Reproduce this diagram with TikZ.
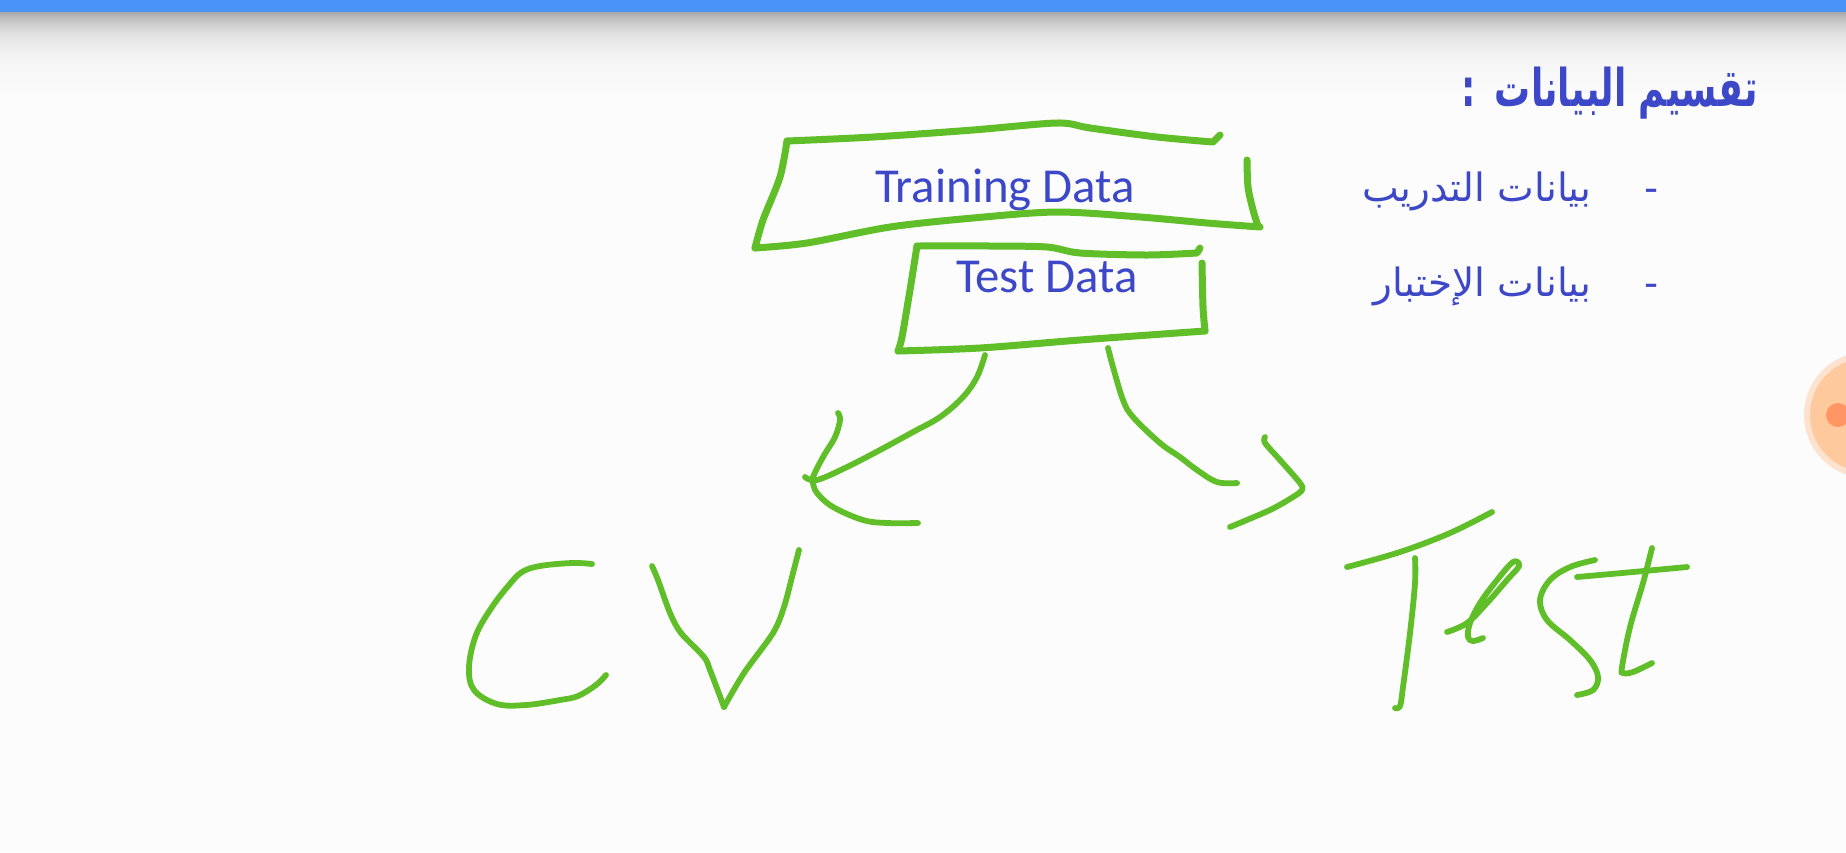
\documentclass[tikz,border=0pt]{standalone}
\usepackage{graphicx}
\usepackage{fontspec}
\setmainfont{Carlito}
\newfontfamily\arabicfont[Script=Arabic]{DejaVu Sans}
\TeXXeTstate=1
\definecolor{ink}{RGB}{96,190,40}
\definecolor{slideblue}{RGB}{60,72,200}
\definecolor{topbar}{RGB}{74,148,248}
\definecolor{paper}{RGB}{252,252,252}
\definecolor{peachring}{RGB}{253,226,206}
\definecolor{peach}{RGB}{255,201,158}
\definecolor{peachdot}{RGB}{255,150,100}
\begin{document}
\begin{tikzpicture}[x=0.5pt,y=-0.5pt,
  pen/.style={draw=ink, line width=2.9pt, line cap=round, line join=round},
  boxpen/.style={pen, line width=3.5pt},
  boxtext/.style={text=slideblue, font=\fontsize{24.4}{28}\selectfont, inner sep=0pt, anchor=base},
  artext/.style={text=slideblue, inner sep=0pt, anchor=base east, font=\arabicfont\fontsize{19.5}{23}\selectfont},
]
\useasboundingbox (0,0) rectangle (1846,852);
\fill[paper] (0,0) rectangle (1846,852);

% header: shadow below the blue bar
\foreach \i in {0,...,84} {
  \pgfmathsetmacro\p{35*exp(-\i/20)}
  \fill[black!\p!paper] (0,11+\i) rectangle (1846,12.3+\i);
}
\fill[topbar] (0,0) rectangle (1846,11.5);

% slide text
\node[artext, font=\arabicfont\bfseries\fontsize{26}{30}\selectfont] (title) at (1758,106)
  {\scalebox{0.69}[1]{\beginR تقسيم البيانات\hskip 14pt:\endR}};
\node[artext] (trainar) at (1592,201) {\beginR بيانات التدريب\endR};
\node[artext, anchor=base] (dashone) at (1652,201) {-};
\node[artext] (testar) at (1592,296) {\beginR بيانات الإختبار\endR};
\node[artext, anchor=base] (dashtwo) at (1652,296) {-};

\node[boxtext] (train) at (1005,202) {Training Data};
\node[boxtext] (test) at (1047,292) {Test Data};

% hand-drawn box round Training Data
\draw[boxpen] plot[smooth, tension=0.5] coordinates {(787,141) (873,137) (973,130) (1057,123) (1090,128) (1157,137) (1213,142)} -- (1220,135);
\draw[boxpen] plot[smooth, tension=0.5] coordinates {(787,141) (780,177) (763,220) (755,248)};
\draw[boxpen] plot[smooth, tension=0.5] coordinates {(755,248) (807,243) (890,227) (973,218) (1057,212) (1140,217) (1207,223) (1260,227)};
\draw[boxpen] plot[smooth, tension=0.5] coordinates {(1247,160) (1248,187) (1253,210) (1258,226)};

% hand-drawn box round Test Data
\draw[boxpen] plot[smooth, tension=0.5] coordinates {(917,246) (990,246) (1047,247) (1080,253) (1147,255) (1197,253)} -- (1200,248);
\draw[boxpen] plot[smooth, tension=0.5] coordinates {(917,246) (910,290) (902,337) (898,351)};
\draw[boxpen] plot[smooth, tension=0.5] coordinates {(898,351) (980,348) (1080,340) (1205,331)};
\draw[boxpen] plot[smooth, tension=0.5] coordinates {(1202,263) (1203,307) (1205,331)};

% left arrow
\draw[pen] plot[smooth, tension=0.6] coordinates {(985,355) (977,377) (963,397) (940,417) (913,432) (880,450) (847,467) (817,480) (805,477)};
\draw[pen] plot[smooth, tension=0.6] coordinates {(838,413) (840,420) (835,437) (823,457) (813,477) (813,483)};
\draw[pen] plot[smooth, tension=0.6] coordinates {(813,483) (817,493) (833,507) (863,520) (887,523) (918,523)};

% right arrow
\draw[pen] plot[smooth, tension=0.6] coordinates {(1108,348) (1113,367) (1123,400) (1133,417) (1160,443) (1180,457) (1197,470) (1217,482) (1237,483)};
\draw[pen] plot[smooth, tension=0.5] coordinates {(1265,437) (1265,443) (1280,460) (1300,483) (1302,490) (1293,497) (1270,510) (1230,527)};

% handwritten CV
\draw[pen] plot[smooth, tension=0.6] coordinates {(592,564) (572,563) (540,566) (522,572) (509,585) (492,607) (476,635) (469,667) (474,690) (497,704) (526,705) (560,700) (578,696) (596,685) (606,675)};
\draw[pen] plot[smooth, tension=0.5] coordinates {(652,566) (658,580) (670,613) (681,633) (704,657) (710,670) (724,707)};
\draw[pen] plot[smooth, tension=0.5] coordinates {(724,707) (744,673) (773,633) (784,607) (793,573) (799,550)};

% handwritten Test
\draw[pen] plot[smooth, tension=0.6] coordinates {(1347,567) (1400,552) (1450,533) (1492,512)};
\draw[pen] plot[smooth, tension=0.6] coordinates {(1415,558) (1415,583) (1410,633) (1403,687) (1400,706) (1395,708)};
\draw[pen] plot[smooth, tension=0.6] coordinates {(1447,632) (1467,623) (1487,603) (1507,580) (1519,566) (1513,562) (1497,580) (1480,603) (1470,623) (1468,637) (1473,641) (1483,638)};
\draw[pen] plot[smooth, tension=0.6] coordinates {(1595,560) (1570,567) (1550,580) (1540,600) (1547,620) (1570,640) (1590,660) (1598,677) (1593,690) (1577,695)};
\draw[pen] plot[smooth, tension=0.6] coordinates {(1577,577) (1633,572) (1687,567)};
\draw[pen] plot[smooth, tension=0.6] coordinates {(1652,548) (1643,583) (1630,627) (1622,667) (1623,673) (1633,672) (1652,663)};

% pointer circle at the right edge
\begin{scope}
  \clip (0,0) rectangle (1846,852);
  \fill[peachring] (1867,415) circle (63);
  \fill[peach] (1867,415) circle (57);
  \fill[peachdot] (1838,415) circle (12);
\end{scope}
\end{tikzpicture}
\end{document}
